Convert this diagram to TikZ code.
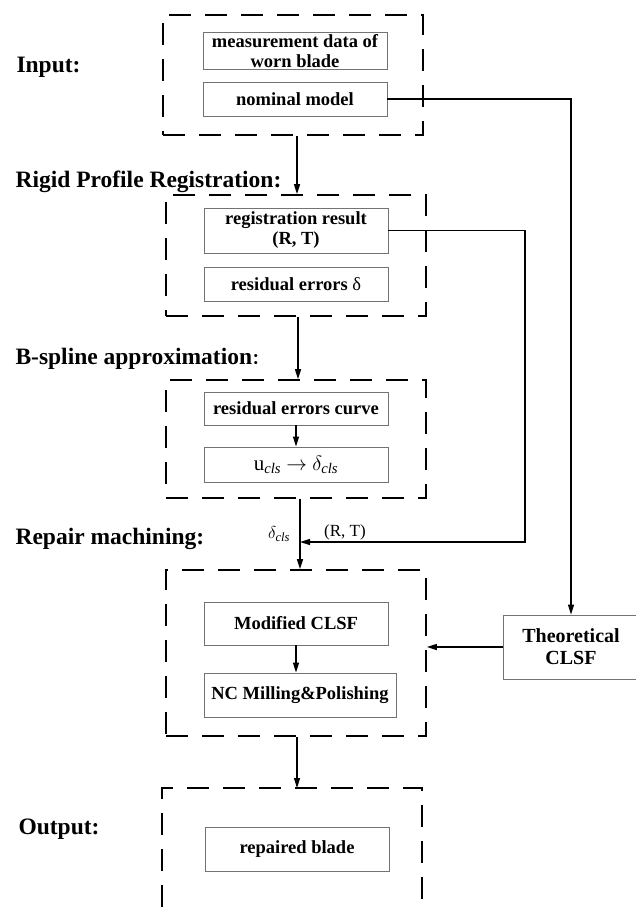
\documentclass[tikz,border=0pt]{standalone}
\usepackage{fontspec}
\setmainfont{Liberation Serif}
\newfontfamily\cjk{Noto Sans CJK SC}
\usetikzlibrary{arrows.meta,calc}

\tikzset{
  frame/.style={draw, line width=1.8pt, dash pattern=on 22pt off 14pt},
  blk/.style={draw=black!55, line width=0.9pt, minimum width=184pt, font=\fontsize{18.5}{20}\selectfont\bfseries, align=center, inner sep=2pt},
  stage/.style={anchor=base west, font=\fontsize{23.5}{26}\selectfont\bfseries},
  arr/.style={-{Triangle[length=10pt,width=6pt]}, line width=1.4pt},
}

\begin{document}
\begin{tikzpicture}[x=1pt,y=-1pt]
   \useasboundingbox (0,0) rectangle (636,907);

   % stage frames
   \node[frame, minimum width=260pt, minimum height=120pt] (f1) at (293,75) {};
   \node[frame, minimum width=260pt, minimum height=121pt] (f2) at (296,255.5) {};
   \node[frame, minimum width=260pt, minimum height=118pt] (f3) at (296,439) {};
   \node[frame, minimum width=260pt, minimum height=166pt] (f4) at (296,653) {};
   \draw[frame] (162,907) |- (422,788) -- (422,907);
   \coordinate (f5top) at (297,788);

   % blocks
   \node[blk, minimum height=36pt] (meas) at (295,51) {measurement data of\\worn blade};
   \node[blk, minimum height=34pt] (nom) at (295,99) {nominal model};
   \node[blk, minimum height=45pt] (reg) at (296,230.5) {registration result\\(R, T)};
   \node[blk, minimum height=34pt] (res) at (296,284) {residual errors {\mdseries δ}};
   \node[blk, minimum height=33pt] (curve) at (296,408.5) {residual errors curve};
   \node[blk, minimum height=35pt, font=\fontsize{21}{22}\selectfont] (ucls) at (296,464.5)
        {u$_{\mathit{cls}}$ $\rightarrow$ $\delta_{\mathit{cls}}$};
   \node[blk, minimum height=43pt] (mod) at (296,623.5) {Modified CLSF};
   \node[blk, minimum width=192pt, minimum height=44pt] (nc) at (300,695) {NC Milling\&Polishing};
   \node[blk, minimum height=44pt] (rep) at (297,849) {repaired blade};
   \node[blk, minimum width=136pt, minimum height=64pt, font=\fontsize{20}{22}\selectfont\bfseries] (theo) at (571,647) {Theoretical\\CLSF};

   % stage labels
   \node[stage] (linput) at (13,73) {Input:};
   \node[stage] (lrigid) at (12,187) {Rigid Profile Registration:};
   \node[stage] (lspline) at (12,364) {B-spline approximation{\cjk\fontsize{15}{16}\selectfont ：}};
   \node[stage] (lrepair) at (12,544) {Repair machining:};
   \node[stage] (loutput) at (15,834) {Output:};

   % flow
   \draw[arr] (f1.south -| 297,0) -- (f2.north -| 297,0);
   \draw[arr] (f2.south -| 298,0) -- (f3.north -| 298,0);
   \draw[arr] (curve) -- (ucls);
   \coordinate (join) at (300,542);
   \coordinate (rt) at (525,542);
   \draw[arr] (f3.south -| join) -- (f4.north -| join);
   \draw[arr] (reg.east) -| (rt) -- (join);
   \node[font=\fontsize{18}{19}\selectfont] (dcls) at (279,534) {$\delta_{\mathit{cls}}$};
   \node[font=\fontsize{17}{19}\selectfont] (lrt) at (345,532) {(R, T)};
   \draw[arr] (mod.south) -- (mod.south |- nc.north);
   \draw[arr] (f4.south -| f5top) -- (f5top);
   \draw[arr] (nom.east) -| (theo.north);
   \draw[arr] (theo.west) -- (theo.west -| f4.east);
\end{tikzpicture}
\end{document}
